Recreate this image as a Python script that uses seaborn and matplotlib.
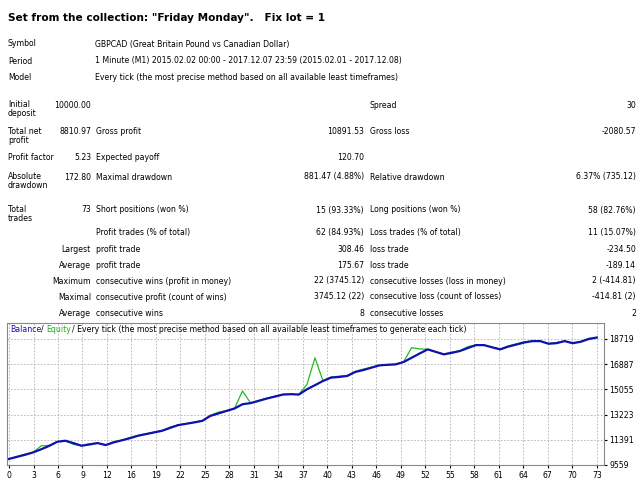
import matplotlib
matplotlib.use("Agg")
import matplotlib.pyplot as plt
import seaborn as sns
import pandas as pd

balance = [10000,10150,10300,10475,10700,10950,11246,11320,11150,10957,11050,11150,11005,11200,11350,11500,11680,11800,11920,12040,12250,12450,12550,12650,12760,13120,13300,13480,13657,13970,14050,14210,14380,14520,14670,14700,14670,15055,15350,15660,15900,15950,16020,16310,16450,16620,16790,16830,16860,17030,17340,17650,17950,17770,17590,17700,17830,18050,18260,18260,18100,17950,18150,18300,18450,18550,18550,18360,18400,18550,18400,18500,18700,18811]
equity = [10000,10180,10350,10480,10950,10980,11250,11330,11050,10960,11100,11150,11010,11250,11350,11550,11700,11820,11950,12060,12300,12480,12560,12670,12780,13150,13400,13500,13660,14930,14060,14250,14400,14550,14680,14700,14680,15400,17340,15660,15950,16000,16050,16350,16520,16650,16800,16850,16870,17040,18070,17990,17950,17780,17600,17750,17850,18150,18280,18260,18110,17960,18200,18350,18500,18560,18550,18370,18450,18560,18410,18520,18750,18800]
trades = list(range(len(balance)))
xtick_labels = ["0","3","6","9","12","16","19","22","25","28","31","34","37","40","43","46","49","52","55","58","61","64","67","70","73"]
ytick_values = [9559,11391,13223,15055,16887,18719]

df = pd.DataFrame({"trade": trades, "balance": balance, "equity": equity})

W, H = 640, 480
fig = plt.figure(figsize=(6.4, 4.8), dpi=100)
fig.patch.set_facecolor("white")
FONT = "DejaVu Sans"
fs = 5.6

def T(x, y, s, ha="left", **kw):
    kw.setdefault("fontsize", fs)
    kw.setdefault("family", FONT)
    fig.text(x / W, 1 - y / H, s, ha=ha, va="center", **kw)

T(8, 18, 'Set from the collection: "Friday Monday".   Fix lot = 1', fontsize=7.6, weight="bold")
T(8, 44, "Symbol"); T(95, 44, "GBPCAD (Great Britain Pound vs Canadian Dollar)")
T(8, 61, "Period"); T(95, 61, "1 Minute (M1) 2015.02.02 00:00 - 2017.12.07 23:59 (2015.02.01 - 2017.12.08)")
T(8, 77, "Model"); T(95, 77, "Every tick (the most precise method based on all available least timeframes)")

T(8, 109, "Initial\ndeposit", linespacing=1.0); T(91, 105, "10000.00", ha="right")
T(370, 105, "Spread"); T(636, 105, "30", ha="right")
T(8, 136, "Total net\nprofit", linespacing=1.0); T(91, 132, "8810.97", ha="right")
T(96, 132, "Gross profit"); T(364, 132, "10891.53", ha="right")
T(370, 132, "Gross loss"); T(636, 132, "-2080.57", ha="right")
T(8, 157, "Profit factor"); T(91, 157, "5.23", ha="right")
T(96, 157, "Expected payoff"); T(364, 157, "120.70", ha="right")
T(8, 181, "Absolute\ndrawdown", linespacing=1.0); T(91, 177, "172.80", ha="right")
T(96, 177, "Maximal drawdown"); T(364, 177, "881.47 (4.88%)", ha="right")
T(370, 177, "Relative drawdown"); T(636, 177, "6.37% (735.12)", ha="right")
T(8, 214, "Total\ntrades", linespacing=1.0); T(91, 210, "73", ha="right")
T(96, 210, "Short positions (won %)"); T(364, 210, "15 (93.33%)", ha="right")
T(370, 210, "Long positions (won %)"); T(636, 210, "58 (82.76%)", ha="right")
rows = [
    (232, "", "Profit trades (% of total)", "62 (84.93%)", "Loss trades (% of total)", "11 (15.07%)"),
    (249, "Largest", "profit trade", "308.46", "loss trade", "-234.50"),
    (265, "Average", "profit trade", "175.67", "loss trade", "-189.14"),
    (281, "Maximum", "consecutive wins (profit in money)", "22 (3745.12)", "consecutive losses (loss in money)", "2 (-414.81)"),
    (297, "Maximal", "consecutive profit (count of wins)", "3745.12 (22)", "consecutive loss (count of losses)", "-414.81 (2)"),
    (313, "Average", "consecutive wins", "8", "consecutive losses", "2"),
]
for y, a, b, c, d, e in rows:
    T(91, y, a, ha="right"); T(96, y, b); T(364, y, c, ha="right"); T(370, y, d); T(636, y, e, ha="right")

ax = fig.add_axes([7 / W, 1 - 465 / H, (604 - 7) / W, (465 - 323) / H])
ax.set_facecolor("white")
sns.lineplot(data=df, x="trade", y="equity", ax=ax, color="#22bb22", linewidth=0.9)
sns.lineplot(data=df, x="trade", y="balance", ax=ax, color="#1010b0", linewidth=1.6)
ax.set_xlim(-0.25, 73.9)
ax.set_ylim(9559, 19865)
n = len(xtick_labels)
ax.set_xticks([73 * i / (n - 1) for i in range(n)])
ax.set_xticklabels(xtick_labels)
ax.set_yticks(ytick_values)
ax.set_yticklabels([str(v) for v in ytick_values])
ax.yaxis.tick_right()
ax.tick_params(labelsize=5.6, length=2, pad=2, colors="black")
ax.grid(True, color="#b0b0b0", linestyle=(0, (2, 2)), linewidth=0.6)
ax.set_xlabel(""); ax.set_ylabel("")
for sp in ax.spines.values():
    sp.set_color("#888888"); sp.set_linewidth(0.8)

T(10, 329, "Balance", color="#1010b0")
T(41, 329, "/", color="black")
T(46, 329, "Equity", color="#22aa22")
T(72, 329, "/ Every tick (the most precise method based on all available least timeframes to generate each tick)")

fig.savefig("out.png", dpi=100)
